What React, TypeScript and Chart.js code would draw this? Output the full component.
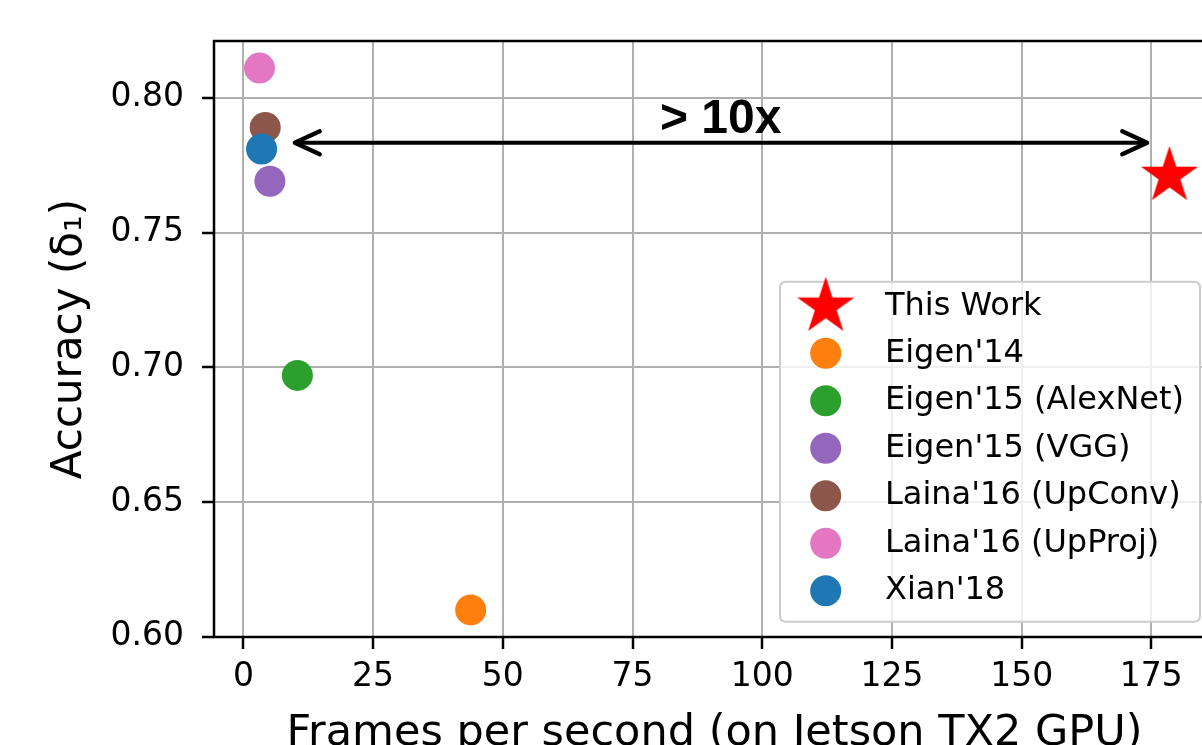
import React, { useEffect, useRef } from 'react';
import { Chart, registerables } from 'chart.js';

Chart.register(...registerables);

// ---- data ----
const seriesLabels = [
  'This Work',
  "Eigen'14",
  "Eigen'15 (AlexNet)",
  "Eigen'15 (VGG)",
  "Laina'16 (UpConv)",
  "Laina'16 (UpProj)",
  "Xian'18",
];
const fpsValues = [178.5, 43.8, 10.4, 5.1, 4.2, 3.1, 3.5];
const accuracyValues = [0.771, 0.610, 0.697, 0.769, 0.789, 0.811, 0.781];
const seriesColors = ['#ff0000', '#ff7f0e', '#2ca02c', '#9467bd', '#8c564b', '#e377c2', '#1f77b4'];
const seriesMarkers = ['star', 'circle', 'circle', 'circle', 'circle', 'circle', 'circle'];

const xTickValues = [0, 25, 50, 75, 100, 125, 150, 175];
const yTickValues = [0.6, 0.65, 0.7, 0.75, 0.8];
const xRange = [-5.67, 187.27];
const yRange = [0.59995, 0.82105];

const xAxisTitle = 'Frames per second (on Jetson TX2 GPU)';
const yAxisTitle = 'Accuracy (δ₁)';

const arrowFrom = [9.9, 0.7833];
const arrowTo = [174.2, 0.7833];
const annotationText = '> 10x';
const annotationAt = [92, 0.7869];

// ---- layout ----
const CANVAS_W = 1230;
const CANVAS_H = 760;
const PLOT_LEFT = 214;
const PLOT_TOP = 41;
const PLOT_RIGHT = 1215;
const PLOT_BOTTOM = 637;

const FONT = 'DejaVu Sans';
const CIRCLE_R = 15.5;
const STAR_R = 30;

function makeStarImage(radius: number, color: string): HTMLCanvasElement {
  const size = Math.ceil(radius) * 2 + 4;
  const c = document.createElement('canvas');
  c.width = size;
  c.height = size;
  const ctx = c.getContext('2d') as CanvasRenderingContext2D;
  const cx = size / 2;
  const cy = size / 2;
  const inner = radius * 0.381966;
  ctx.beginPath();
  for (let i = 0; i < 10; i++) {
    const r = i % 2 === 0 ? radius : inner;
    const a = -Math.PI / 2 + (i * Math.PI) / 5;
    const px = cx + r * Math.cos(a);
    const py = cy + r * Math.sin(a);
    if (i === 0) ctx.moveTo(px, py);
    else ctx.lineTo(px, py);
  }
  ctx.closePath();
  ctx.fillStyle = color;
  ctx.fill();
  return c;
}

export default function App() {
  const canvasRef = useRef<HTMLCanvasElement | null>(null);

  useEffect(() => {
    const canvas = canvasRef.current;
    if (!canvas) return;
    const starImg = makeStarImage(STAR_R, seriesColors[0]);

    const spinesPlugin = {
      id: 'spines',
      afterDatasetsDraw(chart: any) {
        const { ctx, chartArea } = chart;
        ctx.save();
        ctx.strokeStyle = '#000';
        ctx.lineWidth = 2.5;
        ctx.strokeRect(chartArea.left, chartArea.top, chartArea.right - chartArea.left, chartArea.bottom - chartArea.top);
        ctx.restore();
      },
    };

    const annotationPlugin = {
      id: 'arrowAnnotation',
      afterDatasetsDraw(chart: any) {
        const { ctx } = chart;
        const xs = chart.scales.x;
        const ys = chart.scales.y;
        const x1 = xs.getPixelForValue(arrowFrom[0]);
        const y1 = ys.getPixelForValue(arrowFrom[1]);
        const x2 = xs.getPixelForValue(arrowTo[0]);
        const y2 = ys.getPixelForValue(arrowTo[1]);
        ctx.save();
        ctx.strokeStyle = '#000';
        ctx.lineWidth = 4.2;
        ctx.lineCap = 'round';
        ctx.lineJoin = 'round';
        ctx.beginPath();
        ctx.moveTo(x1 + 2, y1);
        ctx.lineTo(x2 - 2, y2);
        ctx.stroke();
        const hl = 25;
        const hw = 11.5;
        ctx.beginPath();
        ctx.moveTo(x1 + hl, y1 - hw);
        ctx.lineTo(x1, y1);
        ctx.lineTo(x1 + hl, y1 + hw);
        ctx.stroke();
        ctx.beginPath();
        ctx.moveTo(x2 - hl, y2 - hw);
        ctx.lineTo(x2, y2);
        ctx.lineTo(x2 - hl, y2 + hw);
        ctx.stroke();
        ctx.fillStyle = '#000';
        ctx.font = 'bold 48px "Liberation Sans", Arial, sans-serif';
        ctx.textAlign = 'center';
        ctx.textBaseline = 'alphabetic';
        ctx.fillText(annotationText, xs.getPixelForValue(annotationAt[0]), ys.getPixelForValue(annotationAt[1]));
        ctx.restore();
      },
    };

    const legendPlugin = {
      id: 'boxLegend',
      afterDraw(chart: any) {
        const { ctx, chartArea } = chart;
        const right = chartArea.right - 15;
        const bottom = chartArea.bottom - 15.3;
        const width = 420;
        const height = 340;
        const left = right - width;
        const top = bottom - height;
        ctx.save();
        ctx.beginPath();
        const r = 6;
        ctx.moveTo(left + r, top);
        ctx.lineTo(right - r, top);
        ctx.quadraticCurveTo(right, top, right, top + r);
        ctx.lineTo(right, bottom - r);
        ctx.quadraticCurveTo(right, bottom, right - r, bottom);
        ctx.lineTo(left + r, bottom);
        ctx.quadraticCurveTo(left, bottom, left, bottom - r);
        ctx.lineTo(left, top + r);
        ctx.quadraticCurveTo(left, top, left + r, top);
        ctx.closePath();
        ctx.fillStyle = 'rgba(255,255,255,0.8)';
        ctx.fill();
        ctx.strokeStyle = '#cccccc';
        ctx.lineWidth = 2;
        ctx.stroke();

        const markerX = left + 45.7;
        const textX = left + 105;
        ctx.font = `32px "${FONT}"`;
        ctx.textAlign = 'left';
        ctx.textBaseline = 'middle';
        for (let i = 0; i < seriesLabels.length; i++) {
          const y = i === 0 ? top + 25 : top + 71.6 + (i - 1) * 47.5;
          if (seriesMarkers[i] === 'star') {
            ctx.drawImage(starImg, markerX - starImg.width / 2, y - starImg.height / 2);
          } else {
            ctx.beginPath();
            ctx.arc(markerX, y, CIRCLE_R, 0, Math.PI * 2);
            ctx.fillStyle = seriesColors[i];
            ctx.fill();
          }
          ctx.fillStyle = '#000';
          ctx.fillText(seriesLabels[i], textX, y);
        }
        ctx.restore();
      },
    };

    const chart = new Chart(canvas, {
      type: 'scatter',
      data: {
        datasets: seriesLabels.map((label, i) => ({
          label,
          data: [{ x: fpsValues[i], y: accuracyValues[i] }],
          backgroundColor: seriesColors[i],
          borderColor: seriesColors[i],
          borderWidth: 0,
          pointRadius: seriesMarkers[i] === 'star' ? STAR_R : CIRCLE_R,
          pointHoverRadius: seriesMarkers[i] === 'star' ? STAR_R : CIRCLE_R,
          pointStyle: seriesMarkers[i] === 'star' ? (starImg as any) : 'circle',
          order: seriesLabels.length - i,
        })),
      },
      options: {
        animation: false,
        responsive: false,
        devicePixelRatio: 1,
        events: [],
        layout: {
          autoPadding: false,
          padding: { left: 0, top: PLOT_TOP, right: CANVAS_W - PLOT_RIGHT, bottom: 0 },
        },
        plugins: {
          legend: { display: false },
          tooltip: { enabled: false },
          title: { display: false },
        },
        scales: {
          x: {
            type: 'linear',
            min: xRange[0],
            max: xRange[1],
            afterBuildTicks: (scale: any) => {
              scale.ticks = xTickValues.map((v) => ({ value: v }));
            },
            afterFit: (scale: any) => {
              scale.height = CANVAS_H - PLOT_BOTTOM;
              scale.paddingLeft = 0;
              scale.paddingRight = 0;
              scale.paddingTop = 0;
              scale.paddingBottom = 0;
            },
            grid: {
              color: '#b0b0b0',
              lineWidth: 2,
              drawTicks: true,
              tickLength: 12,
              tickColor: '#000',
              tickWidth: 2.5,
            },
            border: { display: false },
            ticks: {
              color: '#000',
              font: { family: FONT, size: 33 },
              padding: 9,
              maxRotation: 0,
              autoSkip: false,
              callback: (v: any) => String(v),
            },
            title: {
              display: true,
              text: xAxisTitle,
              color: '#000',
              font: { family: FONT, size: 43 },
              padding: { top: 0, bottom: 0 },
            },
          },
          y: {
            type: 'linear',
            min: yRange[0],
            max: yRange[1],
            afterBuildTicks: (scale: any) => {
              scale.ticks = yTickValues.map((v) => ({ value: v }));
            },
            afterFit: (scale: any) => {
              scale.width = PLOT_LEFT;
              scale.paddingLeft = 0;
              scale.paddingRight = 0;
              scale.paddingTop = 0;
              scale.paddingBottom = 0;
            },
            grid: {
              color: '#b0b0b0',
              lineWidth: 2,
              drawTicks: true,
              tickLength: 12,
              tickColor: '#000',
              tickWidth: 2.5,
            },
            border: { display: false },
            ticks: {
              color: '#000',
              font: { family: FONT, size: 33 },
              padding: 18,
              autoSkip: false,
              callback: (v: any) => Number(v).toFixed(2),
            },
            title: {
              display: true,
              text: yAxisTitle,
              color: '#000',
              font: { family: FONT, size: 42 },
              padding: { top: 44.8, bottom: 0 },
            },
          },
        },
      },
      plugins: [spinesPlugin, annotationPlugin, legendPlugin],
    } as any);

    return () => {
      chart.destroy();
    };
  }, []);

  return (
    <div
      style={{
        position: 'absolute',
        left: 0,
        top: 0,
        width: 1202,
        height: 745,
        overflow: 'hidden',
        background: '#ffffff',
      }}
    >
      <canvas
        ref={canvasRef}
        width={CANVAS_W}
        height={CANVAS_H}
        style={{ display: 'block', width: CANVAS_W, height: CANVAS_H }}
      />
    </div>
  );
}
